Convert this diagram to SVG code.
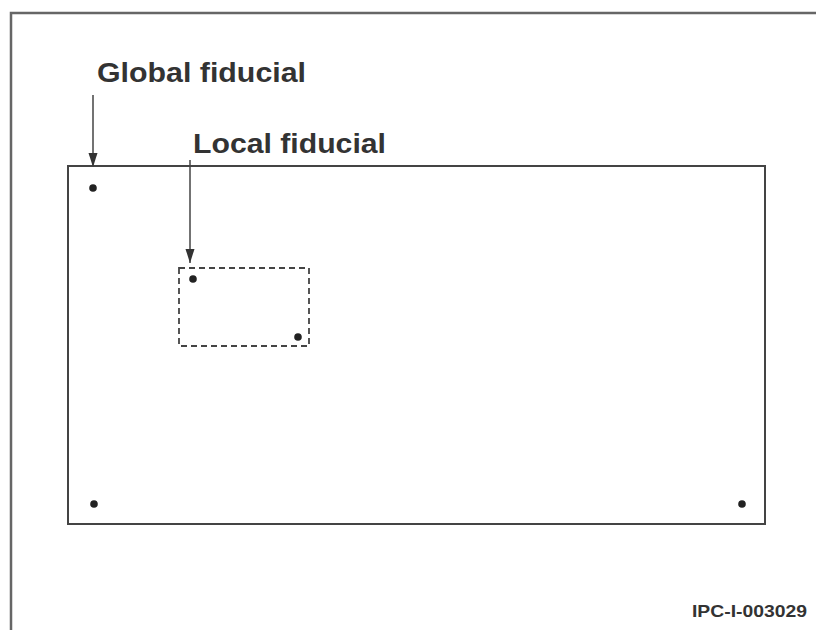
<svg xmlns="http://www.w3.org/2000/svg" width="816" height="630" viewBox="0 0 816 630">
<defs>
<style>
.lbl{font-family:"Liberation Sans",Arial,sans-serif;font-weight:bold;fill:#333}
.edge{stroke:#444;stroke-width:1.5;fill:none}
.dot{fill:#222}
</style>
<marker id="ah" viewBox="0 0 14 16" refX="14" refY="8" markerWidth="14" markerHeight="16" markerUnits="userSpaceOnUse" orient="auto">
<path d="M0,3.5 L14,8 L0,12.5 Z" fill="#333"/>
</marker>
</defs>
<rect width="816" height="630" fill="#fff"/>
<g id="frame">
<path d="M11,630 L11,13 L816,13" fill="none" stroke="#666" stroke-width="2.5"/>
</g>
<g id="board">
<rect x="68" y="166" width="697" height="358" fill="none" stroke="#444" stroke-width="2"/>
<circle class="dot" cx="93" cy="188" r="3.8"/>
<circle class="dot" cx="94" cy="504" r="3.8"/>
<circle class="dot" cx="742" cy="504" r="3.8"/>
</g>
<g id="local-area">
<rect x="179" y="268" width="130" height="78" fill="none" stroke="#444" stroke-width="1.8" stroke-dasharray="6,4"/>
<circle class="dot" cx="193" cy="279" r="3.8"/>
<circle class="dot" cx="298" cy="337" r="3.8"/>
</g>
<g id="connectors">
<line class="edge" x1="93" y1="95" x2="93" y2="167" marker-end="url(#ah)"/>
<line class="edge" x1="190" y1="160" x2="190" y2="263" marker-end="url(#ah)"/>
</g>
<g id="label-global">
<text class="lbl" x="97" y="82" font-size="28" textLength="209" lengthAdjust="spacingAndGlyphs">Global fiducial</text>
</g>
<g id="label-local">
<text class="lbl" x="193" y="153" font-size="28" textLength="193" lengthAdjust="spacingAndGlyphs">Local fiducial</text>
</g>
<g id="figure-id">
<text class="lbl" x="692" y="617" font-size="17" textLength="115" lengthAdjust="spacingAndGlyphs">IPC-I-003029</text>
</g>
</svg>
